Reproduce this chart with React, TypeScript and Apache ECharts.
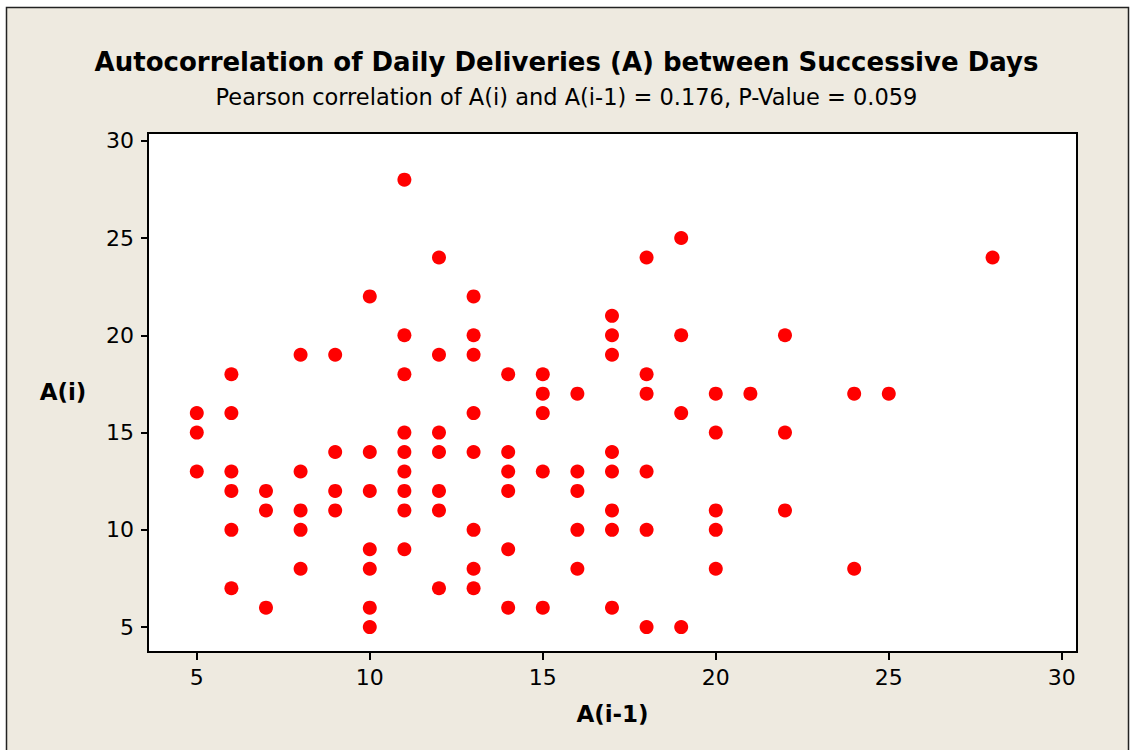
import React, { useEffect, useRef } from "react";
import * as echarts from "echarts";

const titleText = "Autocorrelation of Daily Deliveries (A) between Successive Days";
const subtitleText = "Pearson correlation of A(i) and A(i-1) = 0.176, P-Value = 0.059";
const xAxisName = "A(i-1)";
const yAxisName = "A(i)";
const xTicks = [5, 10, 15, 20, 25, 30];
const yTicks = [5, 10, 15, 20, 25, 30];

// A(i-1) values (lag)
const lagA = [
  5, 5, 5,
  6, 6, 6, 6, 6, 6,
  7, 7, 7,
  8, 8, 8, 8, 8,
  9, 9, 9, 9,
  10, 10, 10, 10, 10, 10, 10,
  11, 11, 11, 11, 11, 11, 11, 11, 11,
  12, 12, 12, 12, 12, 12, 12,
  13, 13, 13, 13, 13, 13, 13, 13,
  14, 14, 14, 14, 14, 14,
  15, 15, 15, 15, 15,
  16, 16, 16, 16, 16,
  17, 17, 17, 17, 17, 17, 17, 17,
  18, 18, 18, 18, 18, 18,
  19, 19, 19, 19,
  20, 20, 20, 20, 20,
  21,
  22, 22, 22,
  24, 24,
  25,
  28,
];
// A(i) values (current)
const currA = [
  16, 15, 13,
  18, 16, 13, 12, 10, 7,
  12, 11, 6,
  19, 13, 11, 10, 8,
  19, 14, 12, 11,
  22, 14, 12, 9, 8, 6, 5,
  28, 20, 18, 15, 14, 13, 12, 11, 9,
  24, 19, 15, 14, 12, 11, 7,
  22, 20, 19, 16, 14, 10, 8, 7,
  18, 14, 13, 12, 9, 6,
  18, 17, 16, 13, 6,
  17, 13, 12, 10, 8,
  21, 20, 19, 14, 13, 11, 10, 6,
  24, 18, 17, 13, 10, 5,
  25, 20, 16, 5,
  17, 15, 11, 10, 8,
  17,
  20, 15, 11,
  17, 8,
  17,
  24,
];

const FONT = "DejaVu Sans";

export default function App() {
  const ref = useRef<HTMLDivElement>(null);
  useEffect(() => {
    if (!ref.current) return;
    const chart = echarts.init(ref.current, null, { renderer: "svg" });
    const points = lagA.map((x, i) => [x, currA[i]]);
    chart.setOption({
      animation: false,
      backgroundColor: "#ffffff",
      textStyle: { fontFamily: FONT },
      graphic: [
        {
          type: "rect",
          z: -10,
          silent: true,
          shape: { x: 6.5, y: 7.5, width: 1122, height: 760 },
          style: { fill: "#EEEAE0", stroke: "#222222", lineWidth: 1.5 },
        },
        {
          type: "text",
          x: 63,
          y: 392,
          style: {
            text: yAxisName,
            fontFamily: FONT,
            fontSize: 23,
            fontWeight: "bold",
            fill: "#000",
            textAlign: "center",
            textVerticalAlign: "middle",
          },
        },
      ],
      title: [
        {
          text: titleText,
          left: "center",
          top: 44,
          textStyle: { fontFamily: FONT, fontSize: 26, fontWeight: "bold", color: "#000" },
        },
        {
          text: subtitleText,
          left: "center",
          top: 80,
          textStyle: { fontFamily: FONT, fontSize: 22.5, fontWeight: "normal", color: "#000" },
        },
      ],
      grid: {
        left: 148,
        top: 133,
        right: 56,
        bottom: 98,
        show: true,
        backgroundColor: "#ffffff",
        borderColor: "#000",
        borderWidth: 2,
      },
      xAxis: {
        type: "value",
        min: 3.59,
        max: 30.44,
        name: xAxisName,
        nameLocation: "middle",
        nameGap: 50,
        nameTextStyle: { fontFamily: FONT, fontSize: 23, fontWeight: "bold", color: "#000" },
        splitLine: { show: false },
        axisLine: { show: true, onZero: false, lineStyle: { color: "#000", width: 2 } },
        axisTick: {
          show: true,
          inside: false,
          length: 8,
          customValues: xTicks,
          lineStyle: { color: "#000", width: 2 },
        },
        axisLabel: {
          customValues: xTicks,
          margin: 14,
          fontFamily: FONT,
          fontSize: 22,
          color: "#000",
        },
      },
      yAxis: {
        type: "value",
        min: 3.72,
        max: 30.4,
        splitLine: { show: false },
        axisLine: { show: true, onZero: false, lineStyle: { color: "#000", width: 2 } },
        axisTick: {
          show: true,
          inside: false,
          length: 7,
          customValues: yTicks,
          lineStyle: { color: "#000", width: 2 },
        },
        axisLabel: {
          customValues: yTicks,
          margin: 14,
          fontFamily: FONT,
          fontSize: 22,
          color: "#000",
        },
      },
      series: [
        {
          type: "scatter",
          data: points,
          symbol: "circle",
          symbolSize: 14,
          itemStyle: { color: "#FF0000", opacity: 1 },
          z: 5,
        },
      ],
    });
    return () => chart.dispose();
  }, []);
  return (
    <div
      ref={ref}
      style={{ position: "absolute", left: 0, top: 0, width: 1133, height: 750 }}
    />
  );
}
